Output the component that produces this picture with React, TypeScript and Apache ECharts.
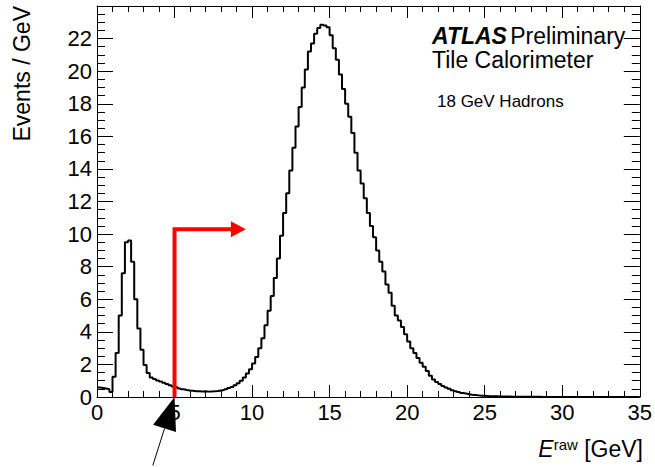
import React, { useEffect, useRef } from "react";
import * as echarts from "echarts";

// Histogram: 0.2 GeV bins from 0 to 35 GeV (Events / GeV)
const BIN_WIDTH = 0.2;
const counts: number[] = [
  0.58, 0.55, 0.52, 0.48, 0.3, 1.25, 2.7, 5.0, 7.6, 9.5,
  9.6, 8.3, 6.0, 4.2, 2.9, 1.96, 1.47, 1.2, 1.1, 1.02,
  0.95, 0.88, 0.8, 0.72, 0.65, 0.6, 0.52, 0.47, 0.43, 0.4,
  0.38, 0.36, 0.35, 0.34, 0.35, 0.33, 0.34, 0.35, 0.37, 0.4,
  0.43, 0.48, 0.55, 0.62, 0.72, 0.85, 1.0, 1.2, 1.45, 1.7,
  2.05, 2.45, 3.0, 3.6, 4.4, 5.3, 6.2, 7.3, 8.5, 9.9,
  11.3, 12.5, 13.9, 15.3, 16.6, 17.8, 19.0, 20.1, 21.2, 21.7,
  22.3, 22.65, 22.85, 22.8, 22.7, 22.2, 21.4, 20.7, 19.8, 18.9,
  18.0, 17.2, 16.2, 15.0, 13.9, 13.1, 12.2, 11.3, 10.5, 9.8,
  9.0, 8.3, 7.7, 6.9, 6.4, 5.6, 5.0, 4.7, 4.3, 3.85,
  3.4, 3.0, 2.7, 2.4, 2.1, 1.85, 1.6, 1.3, 1.08, 0.92,
  0.8, 0.68, 0.58, 0.5, 0.42, 0.36, 0.3, 0.25, 0.21, 0.17,
  0.14, 0.12, 0.1, 0.08, 0.07, 0.06, 0.05, 0.045, 0.04, 0.035,
  0.03, 0.03, 0.025, 0.02, 0.02, 0.015, 0.015, 0.01, 0.01, 0.01,
  0.01, 0.008, 0.008, 0.006, 0.006, 0.005, 0.005, 0.004, 0.004, 0.004,
  0.003, 0.003, 0.003, 0.003, 0.002, 0.002, 0.002, 0.002, 0.002, 0.002,
  0.001, 0.001, 0.001, 0.001, 0.001, 0.001, 0.001, 0.001, 0.001, 0.001,
  0.001, 0.001, 0.001, 0.001, 0.001,
];

const X_MIN = 0;
const X_MAX = 35;
const X_INTERVAL = 5;
const Y_MIN = 0;
const Y_MAX = 24;
const Y_INTERVAL = 2;

// Annotation: red cut line at 5 GeV with arrow pointing right
const redCutPath: number[][] = [
  [5, 0],
  [5, 10.3],
  [8.8, 10.3],
];
const redArrowTip: number[] = [9.6, 10.3];
// Black arrow pointing at 5 GeV on the axis
const blackArrowTip: number[] = [5, 0];
const blackArrowTail: number[] = [3.6, -4.2];

const FONT = "'Liberation Sans', Arial, Helvetica, sans-serif";

export default function App() {
  const ref = useRef<HTMLDivElement>(null);

  useEffect(() => {
    const chart = echarts.init(ref.current!, null, { renderer: "svg" });

    const histData: number[][] = [];
    counts.forEach((c, i) => {
      histData.push([i * BIN_WIDTH, c], [(i + 1) * BIN_WIDTH, c]);
    });

    const xAxisBase = {
      type: "value",
      min: X_MIN,
      max: X_MAX,
      interval: X_INTERVAL,
      axisLine: { show: true, onZero: false, lineStyle: { color: "#000", width: 1 } },
      axisTick: { show: true, inside: true, length: 12, lineStyle: { color: "#000", width: 1 } },
      minorTick: { show: true, splitNumber: 5, length: 6, lineStyle: { color: "#000", width: 1 } },
      splitLine: { show: false },
      minorSplitLine: { show: false },
    };
    const yAxisBase = {
      type: "value",
      min: Y_MIN,
      max: Y_MAX,
      interval: Y_INTERVAL,
      axisLine: { show: true, onZero: false, lineStyle: { color: "#000", width: 1 } },
      axisTick: { show: true, inside: true, length: 16, lineStyle: { color: "#000", width: 1 } },
      minorTick: { show: true, splitNumber: 4, length: 8, lineStyle: { color: "#000", width: 1 } },
      splitLine: { show: false },
      minorSplitLine: { show: false },
    };

    chart.setOption({
      animation: false,
      backgroundColor: "#fff",
      grid: { left: 97, right: 12, top: 6, bottom: 70, containLabel: false },
      xAxis: [
        {
          ...xAxisBase,
          position: "bottom",
          axisLabel: { color: "#000", fontSize: 22, fontFamily: FONT, margin: 4 },
        },
        { ...xAxisBase, position: "top", axisLabel: { show: false } },
      ],
      yAxis: [
        {
          ...yAxisBase,
          position: "left",
          axisLabel: {
            color: "#000",
            fontSize: 22,
            fontFamily: FONT,
            margin: 5,
            formatter: (v: number) => (v === Y_MAX ? "" : String(v)),
          },
        },
        { ...yAxisBase, position: "right", axisLabel: { show: false } },
      ],
      series: [
        {
          type: "line",
          data: histData,
          xAxisIndex: 0,
          yAxisIndex: 0,
          symbol: "none",
          lineStyle: { color: "#000", width: 2 },
          z: 3,
          silent: true,
        },
        {
          type: "line",
          data: redCutPath,
          xAxisIndex: 0,
          yAxisIndex: 0,
          symbol: "none",
          lineStyle: { color: "#ff0000", width: 4, cap: "butt", join: "miter" },
          z: 4,
          silent: true,
        },
      ],
    });

    const px = (p: number[]) =>
      chart.convertToPixel({ xAxisIndex: 0, yAxisIndex: 0 }, p) as number[];

    const rt = px(redArrowTip);
    const bt = px(blackArrowTip);
    const bTail = px(blackArrowTail);
    const dx = bt[0] - bTail[0];
    const dy = bt[1] - bTail[1];
    const len = Math.hypot(dx, dy);
    const ux = dx / len;
    const uy = dy / len;
    const headLen = 33;
    const headHalf = 12;
    const bcx = bt[0] - ux * headLen;
    const bcy = bt[1] - uy * headLen;

    chart.setOption({
      graphic: [
        {
          type: "polygon",
          z: 100,
          shape: {
            points: [
              [rt[0], rt[1]],
              [rt[0] - 15, rt[1] - 8],
              [rt[0] - 15, rt[1] + 8],
            ],
          },
          style: { fill: "#ff0000" },
        },
        {
          type: "line",
          z: 100,
          shape: { x1: bTail[0], y1: bTail[1], x2: bcx, y2: bcy },
          style: { stroke: "#000", lineWidth: 1 },
        },
        {
          type: "polygon",
          z: 100,
          shape: {
            points: [
              [bt[0], bt[1]],
              [bcx - uy * headHalf, bcy + ux * headHalf],
              [bcx + uy * headHalf, bcy - ux * headHalf],
            ],
          },
          style: { fill: "#000" },
        },
        {
          type: "text",
          z: 100,
          x: 432,
          y: 24,
          style: {
            text: "{b|ATLAS} {r|Preliminary}",
            rich: {
              b: { fontSize: 23, fontWeight: "bold", fontStyle: "italic", fontFamily: FONT, fill: "#000" },
              r: { fontSize: 23, fontFamily: FONT, fill: "#000" },
            },
            verticalAlign: "top",
            align: "left",
          },
        },
        {
          type: "text",
          z: 100,
          x: 432,
          y: 48,
          style: {
            text: "Tile Calorimeter",
            font: `23px ${FONT}`,
            fill: "#000",
            verticalAlign: "top",
            align: "left",
          },
        },
        {
          type: "text",
          z: 100,
          x: 437,
          y: 93,
          style: {
            text: "18 GeV Hadrons",
            font: `17px ${FONT}`,
            fill: "#000",
            verticalAlign: "top",
            align: "left",
          },
        },
        {
          type: "text",
          z: 100,
          x: 22,
          y: 6,
          rotation: Math.PI / 2,
          style: {
            text: "Events / GeV",
            font: `23px ${FONT}`,
            fill: "#000",
            verticalAlign: "middle",
            align: "right",
          },
        },
        {
          type: "text",
          z: 100,
          x: 643,
          y: 460,
          style: {
            text: "{e|E}{s|raw}{g| [GeV]}",
            rich: {
              e: { fontSize: 23, fontStyle: "italic", fontFamily: FONT, fill: "#000", verticalAlign: "bottom" },
              s: { fontSize: 15, fontFamily: FONT, fill: "#000", verticalAlign: "top" },
              g: { fontSize: 23, fontFamily: FONT, fill: "#000", verticalAlign: "bottom" },
            },
            align: "right",
            verticalAlign: "bottom",
          },
        },
      ],
    });

    return () => chart.dispose();
  }, []);

  return (
    <div
      ref={ref}
      style={{ position: "fixed", left: 0, top: 0, width: 655, height: 467 }}
    />
  );
}
